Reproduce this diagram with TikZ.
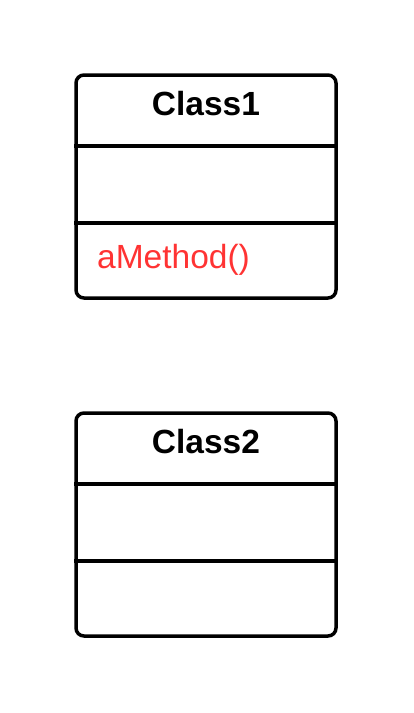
\documentclass[tikz,border=0pt]{standalone}
\usepackage{fontspec}
\setmainfont{Liberation Sans}
\usetikzlibrary{positioning}

\definecolor{methodred}{HTML}{FF3333}

\tikzset{
  classbox/.style={draw, line width=3.5pt, rounded corners=8pt,
    minimum width=260pt, minimum height=223pt, inner sep=0pt},
  divider/.style={line width=3.5pt},
  classname/.style={anchor=base, inner sep=0pt, font=\bfseries\fontsize{33.5}{38}\selectfont},
  member/.style={anchor=base west, inner sep=0pt, font=\fontsize{33.5}{38}\selectfont}
}

\begin{document}
\begin{tikzpicture}[x=1pt, y=-1pt]
  \useasboundingbox (0,0) rectangle (413,713);

  % first class
  \node[classbox] (c1) at (206,186.5) {};
  \node[classname] (c1name) at (206,115) {Class1};
  \draw[divider] (c1.west |- 0,146) -- (c1.east |- 0,146);
  \draw[divider] (c1.west |- 0,223) -- (c1.east |- 0,223);
  \node[member, methodred] (c1op) at (97,268) {aMethod()};

  % second class
  \node[classbox] (c2) at (206,524.5) {};
  \node[classname] (c2name) at (206,453) {Class2};
  \draw[divider] (c2.west |- 0,484) -- (c2.east |- 0,484);
  \draw[divider] (c2.west |- 0,561) -- (c2.east |- 0,561);

\end{tikzpicture}
\end{document}
